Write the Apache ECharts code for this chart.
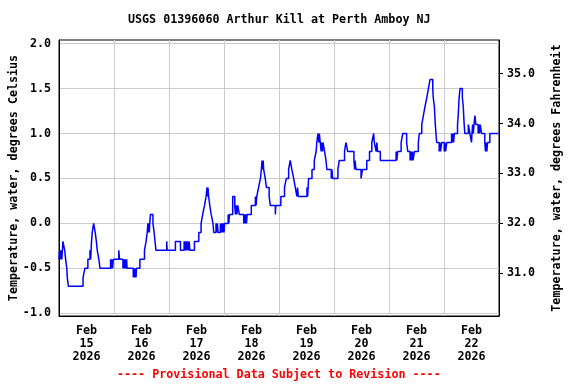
<!DOCTYPE html>
<html><head><meta charset="utf-8">
<script src="https://cdn.jsdelivr.net/npm/echarts@6/dist/echarts.min.js"></script>
<style>html,body{margin:0;padding:0;background:#fff}#c{width:576px;height:384px}</style>
</head><body><div id="c"></div>
<script>
const chartTitle = 'USGS 01396060 Arthur Kill at Perth Amboy NJ';
const footerText = '---- Provisional Data Subject to Revision ----';
const leftAxisName = 'Temperature, water, degrees Celsius';
const rightAxisName = 'Temperature, water, degrees Fahrenheit';
const dayLabels = ['Feb\n15\n2026','Feb\n16\n2026','Feb\n17\n2026','Feb\n18\n2026','Feb\n19\n2026','Feb\n20\n2026','Feb\n21\n2026','Feb\n22\n2026'];
const labelHours = [12,36,60,84,108,132,156,180];
const celsiusTicks = [-1.0,-0.5,0.0,0.5,1.0,1.5,2.0];
const fahrenheitTicks = [31,32,33,34,35];
const yMinC = -1.03, yMaxC = 2.04;
const xMaxHours = 192;

// hours since Feb 15 00:00 at which the reading changes, and the reading (deg C)
const hours = [
0,0.3,0.6,0.9,1.2,1.5,1.7,2.5,2.9,3.4,
3.6,4.1,10.5,11.3,12.6,13.5,13.8,14.0,14.2,14.5,
15.1,15.8,16.3,16.7,17.4,17.9,22.5,22.8,23.1,23.4,
23.7,26.1,26.4,27.9,28.2,28.5,28.8,29.1,29.5,29.7,
32.4,32.7,33.0,33.4,33.6,33.8,35.3,37.3,38.0,38.5,
38.8,39.0,39.2,39.4,39.6,39.9,41.0,41.5,41.9,42.3,
47.0,47.2,50.8,53.0,54.6,54.9,55.3,55.6,56.0,56.4,
56.8,57.1,59.1,61.0,62.0,62.7,63.5,64.2,64.6,64.8,
65.0,65.3,65.8,66.4,67.2,67.5,68.5,68.8,69.1,69.4,
70.4,70.7,71.0,71.3,71.6,72.0,72.3,73.8,74.1,74.4,
75.8,76.7,77.0,77.3,77.6,78.0,78.7,80.6,80.9,81.2,
81.5,81.8,82.1,83.9,85.7,86.0,86.3,87.1,87.9,88.3,
88.6,89.0,89.1,89.3,90.0,90.5,91.7,92.2,94.4,94.6,
96.8,98.4,99.2,100.2,100.9,101.6,102.4,103.1,103.8,104.1,
104.4,108.2,108.5,108.9,110.4,111.4,112.2,112.5,113.0,113.4,
113.6,114.0,114.4,114.7,115.0,115.2,115.9,116.5,116.9,118.8,
119.1,119.4,121.7,122.3,124.6,125.2,126.0,128.7,129.0,129.2,
129.6,131.8,132.4,134.3,135.5,136.5,137.3,137.6,138.4,138.7,
139.0,140.2,147.1,147.4,147.8,149.3,150.0,151.7,152.2,153.2,
153.5,153.8,154.2,154.5,155.1,156.8,157.2,158.3,159.0,159.7,
160.5,161.2,161.9,163.1,163.3,163.8,164.2,164.5,164.8,165.9,
166.2,166.5,167.0,168.1,168.4,168.7,169.2,171.3,171.6,171.9,
172.2,172.5,173.9,174.2,174.4,174.6,175.0,176.0,176.4,176.8,
177.1,178.6,179.3,180.0,180.2,180.5,180.8,181.1,181.5,181.9,
182.9,183.2,183.5,183.8,184.4,185.8,186.1,186.4,186.7,187.0,
188.0,191.9
];
const tempC = [
-0.4,-0.3,-0.4,-0.3,-0.4,-0.3,-0.2,-0.3,-0.4,-0.5,
-0.6,-0.7,-0.6,-0.5,-0.4,-0.3,-0.4,-0.3,-0.2,-0.1,
0.0,-0.1,-0.2,-0.3,-0.4,-0.5,-0.4,-0.5,-0.4,-0.5,
-0.4,-0.3,-0.4,-0.5,-0.4,-0.5,-0.4,-0.5,-0.4,-0.5,
-0.6,-0.5,-0.6,-0.5,-0.6,-0.5,-0.4,-0.3,-0.2,-0.1,
0.0,-0.1,0.0,-0.1,0.0,0.1,0.0,-0.1,-0.2,-0.3,
-0.2,-0.3,-0.2,-0.3,-0.2,-0.3,-0.2,-0.3,-0.2,-0.3,
-0.2,-0.3,-0.2,-0.1,0.0,0.1,0.2,0.3,0.4,0.3,
0.4,0.3,0.2,0.1,0.0,-0.1,0.0,-0.1,0.0,-0.1,
0.0,-0.1,0.0,-0.1,0.0,-0.1,0.0,0.1,0.0,0.1,
0.3,0.2,0.1,0.2,0.1,0.2,0.1,0.0,0.1,0.0,
0.1,0.0,0.1,0.2,0.3,0.2,0.3,0.4,0.5,0.6,
0.7,0.6,0.7,0.6,0.5,0.4,0.3,0.2,0.1,0.2,
0.3,0.4,0.5,0.6,0.7,0.6,0.5,0.4,0.3,0.4,
0.3,0.4,0.3,0.5,0.6,0.7,0.8,0.9,1.0,0.9,
1.0,0.9,0.8,0.9,0.8,0.9,0.8,0.7,0.6,0.5,
0.6,0.5,0.6,0.7,0.8,0.9,0.8,0.7,0.6,0.7,
0.6,0.5,0.6,0.7,0.8,0.9,1.0,0.9,0.8,0.9,
0.8,0.7,0.8,0.7,0.8,0.9,1.0,0.9,0.8,0.7,
0.8,0.7,0.8,0.7,0.8,0.9,1.0,1.1,1.2,1.3,
1.4,1.5,1.6,1.5,1.4,1.3,1.1,1.0,0.9,0.8,
0.9,0.8,0.9,0.8,0.9,0.8,0.9,1.0,0.9,1.0,
0.9,1.0,1.1,1.2,1.3,1.4,1.5,1.4,1.3,1.1,
1.0,1.1,1.0,0.9,1.0,1.1,1.0,1.1,1.2,1.1,
1.0,1.1,1.0,1.1,1.0,0.9,0.8,0.9,0.8,0.9,
1.0,1.0
];

const FONT = 'DejaVu Sans Mono';
const txt = {fontFamily: FONT, fontWeight: 'bold', fontSize: 11.7, color: '#000'};
const c2f = c => c * 1.8 + 32;

const chart = echarts.init(document.getElementById('c'), null, {renderer: 'canvas'});
chart.setOption({
  animation: false,
  backgroundColor: '#fff',
  title: [
    {text: chartTitle, left: 128, top: 14, padding: 0, textStyle: Object.assign({}, txt)},
    {text: footerText, left: 117, top: 369, padding: 0, textStyle: Object.assign({}, txt, {color: '#ff0000'})}
  ],
  grid: {left: 58, right: 77, top: 40, bottom: 68, show: true, borderColor: '#000', borderWidth: 1, containLabel: false},
  xAxis: {
    type: 'value', min: 0, max: xMaxHours, interval: 24,
    axisLine: {show: true, onZero: false, lineStyle: {color: '#000', width: 1}},
    axisTick: {show: false},
    splitLine: {show: true, lineStyle: {color: '#cccccc', width: 1}},
    axisLabel: Object.assign({}, txt, {
      customValues: labelHours, margin: 8, lineHeight: 13,
      formatter: v => dayLabels[labelHours.indexOf(v)] || ''
    })
  },
  yAxis: [
    {
      type: 'value', position: 'left', min: yMinC, max: yMaxC,
      axisLine: {show: true, onZero: false, lineStyle: {color: '#000', width: 1}},
      axisTick: {show: false, customValues: celsiusTicks},
      splitLine: {show: true, lineStyle: {color: '#cccccc', width: 1}},
      axisLabel: Object.assign({}, txt, {customValues: celsiusTicks, margin: 8, formatter: v => v.toFixed(1)}),
      name: leftAxisName, nameLocation: 'middle', nameGap: 39, nameRotate: 90,
      nameMoveOverlap: false,
      nameTextStyle: Object.assign({}, txt)
    },
    {
      type: 'value', position: 'right', min: c2f(yMinC), max: c2f(yMaxC),
      axisLine: {show: true, onZero: false, lineStyle: {color: '#000', width: 1}},
      axisTick: {show: true, inside: false, length: 4, customValues: fahrenheitTicks, lineStyle: {color: '#000', width: 1}},
      splitLine: {show: false},
      axisLabel: Object.assign({}, txt, {customValues: fahrenheitTicks, margin: 8, formatter: v => v.toFixed(1)}),
      name: rightAxisName, nameLocation: 'middle', nameGap: 52, nameRotate: 90,
      nameMoveOverlap: false,
      nameTextStyle: Object.assign({}, txt)
    }
  ],
  series: [{
    type: 'line', yAxisIndex: 0, step: 'end',
    data: hours.map((h, i) => [h, tempC[i]]),
    showSymbol: false, symbol: 'none',
    lineStyle: {color: '#0000ff', width: 1.5},
    silent: true
  }]
});
</script>
</body></html>
